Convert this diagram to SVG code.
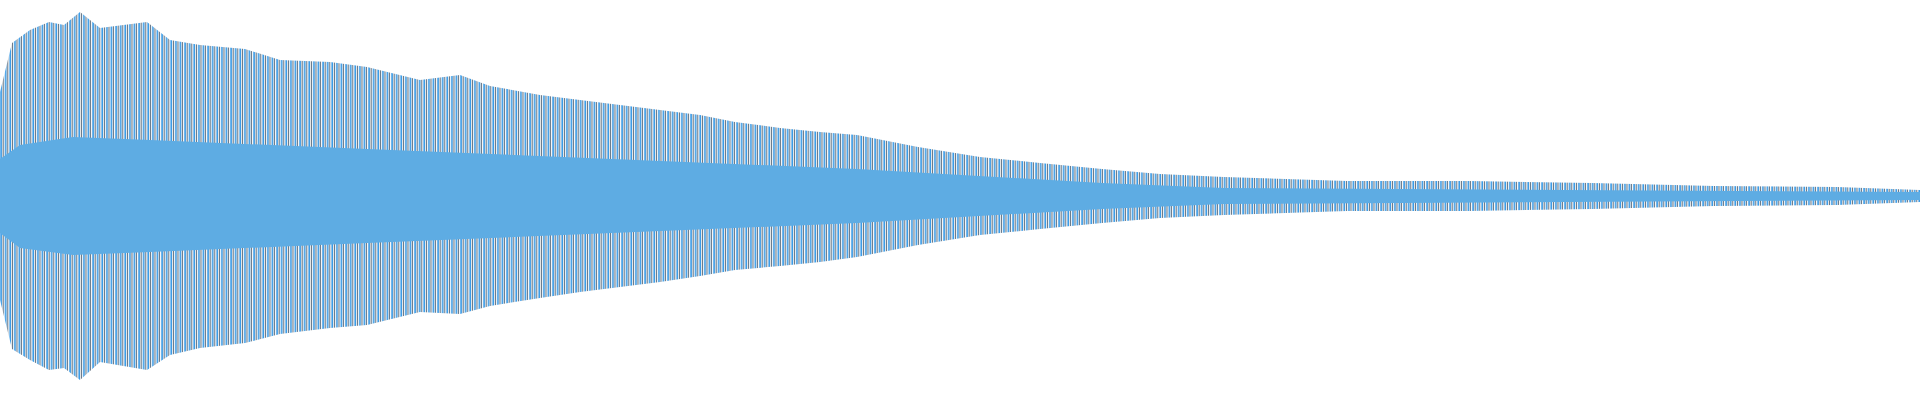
<svg xmlns="http://www.w3.org/2000/svg" width="1920" height="400" viewBox="0 0 1920 400">
<defs>
<pattern id="lines" x="0" y="0" width="4.6" height="400" patternUnits="userSpaceOnUse">
<rect x="0.3" y="0" width="1.5" height="400" fill="#2f95e4"/>
<rect x="2.6" y="0" width="1.1" height="400" fill="#5f7080"/>
</pattern>
</defs>
<rect width="1920" height="400" fill="#ffffff"/>
<g id="waveform">
<polygon fill="url(#lines)" points="0,92 12,43 30,30 49,22 64,25 80,12 100,28 147,22 170,40 200,45 245,49 280,60 330,62 367,67 420,80 460,75 490,86 540,95 580,100 612,104 660,110 700,115 735,122 780,128 820,132 857,135 918,147 980,157 1040,163 1102,169 1160,174 1224,177 1347,181 1469,181 1592,183 1714,186 1837,187 1920,190 1920,202 1837,205 1714,206 1592,209 1469,211 1347,211 1224,215 1160,218 1102,223 1040,229 980,235 918,245 857,257 820,262 780,266 735,270 700,276 660,282 612,288 580,292 540,298 490,306 460,314 420,312 367,325 330,328 280,334 245,343 200,348 170,355 147,370 100,362 80,380 64,368 49,370 30,360 12,349 0,300"/>
<polygon fill="#5eace3" points="0,159 20,145 73,137 150,140 367,149 612,159 857,169 1102,183 1224,188 1920,192 1920,200 1224,204 1102,209 857,223 612,233 367,243 150,252 73,255 20,248 0,233"/>
</g>
</svg>
